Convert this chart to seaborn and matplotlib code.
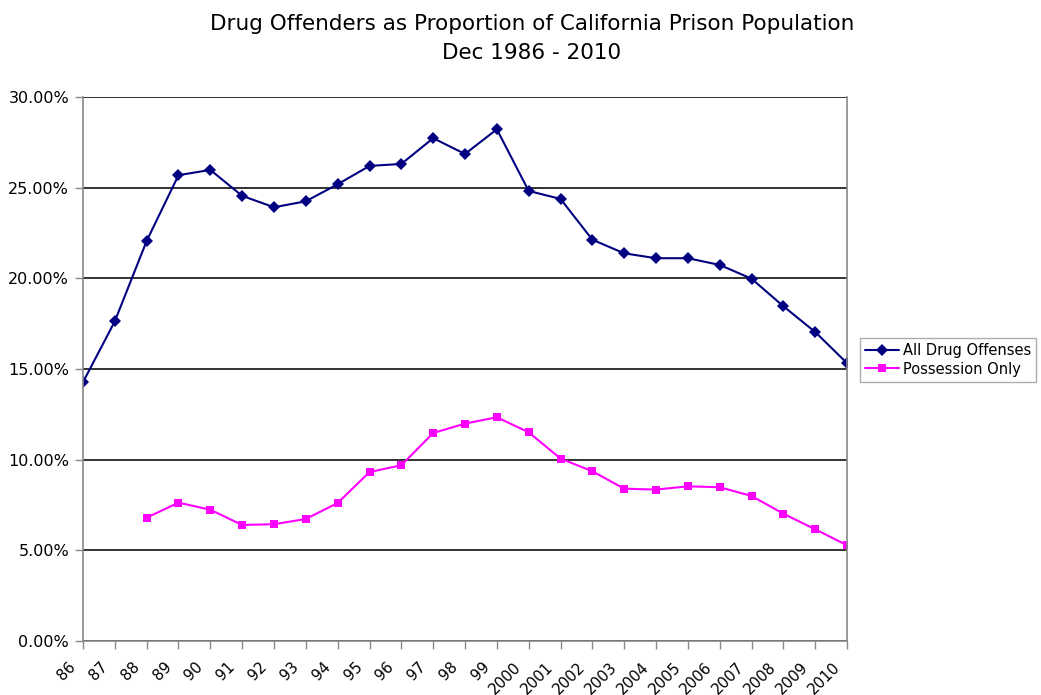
import numpy as np
import pandas as pd
import matplotlib
matplotlib.use("Agg")
import matplotlib.pyplot as plt
import matplotlib.transforms as mtransforms
import seaborn as sns
from matplotlib.ticker import FuncFormatter

# Year labels as shown on the category axis
years = ["86", "87", "88", "89", "90", "91", "92", "93", "94", "95", "96", "97",
         "98", "99", "2000", "2001", "2002", "2003", "2004", "2005", "2006",
         "2007", "2008", "2009", "2010"]

# Share of prison population (percent)
all_drug = [14.27, 17.63, 22.06, 25.69, 25.98, 24.55, 23.92, 24.25, 25.19, 26.20,
            26.31, 27.73, 26.86, 28.22, 24.82, 24.38, 22.13, 21.38, 21.11, 21.11,
            20.74, 19.98, 18.46, 17.04, 15.32]
possession = [np.nan, np.nan, 6.80, 7.63, 7.24, 6.40, 6.44, 6.73, 7.61, 9.32,
              9.69, 11.47, 11.99, 12.34, 11.51, 10.06, 9.36, 8.40, 8.35, 8.53,
              8.48, 8.00, 7.02, 6.16, 5.28]

series_names = ["All Drug Offenses", "Possession Only"]

df = pd.DataFrame({
    "idx": list(range(len(years))) * 2,
    "value": all_drug + possession,
    "series": [series_names[0]] * len(years) + [series_names[1]] * len(years),
})

sns.set_theme(style="white")
plt.rcParams["font.family"] = ["DejaVu Sans"]
plt.rcParams["text.color"] = "black"
plt.rcParams["xtick.labelcolor"] = "black"
plt.rcParams["ytick.labelcolor"] = "black"

fig = plt.figure(figsize=(10.41, 6.95), dpi=100)
ax = fig.add_axes([0.0797, 0.0777, 0.734, 0.7827])

sns.lineplot(
    data=df, x="idx", y="value", hue="series", style="series",
    palette={series_names[0]: "#000080", series_names[1]: "#FF00FF"},
    markers={series_names[0]: "D", series_names[1]: "s"},
    dashes=False, markersize=6, linewidth=1.5, markeredgewidth=0,
    ax=ax,
)

ax.set_xlim(0, len(years) - 1)
ax.set_ylim(0, 30)
ax.set_yticks(np.arange(0, 30.01, 5))
ax.yaxis.set_major_formatter(FuncFormatter(lambda v, p: f"{v:.2f}%"))
ax.set_xticks(range(len(years)))
ax.set_xticklabels(years, rotation=45, ha="right", va="top", rotation_mode="anchor")
ax.set_xlabel("")
ax.set_ylabel("")

ax.yaxis.grid(True, color="#222222", linewidth=1.3)
ax.xaxis.grid(False)
ax.set_axisbelow(True)

for side in ["left", "right", "bottom"]:
    ax.spines[side].set_color("#888888")
    ax.spines[side].set_linewidth(1.2)
ax.spines["top"].set_visible(False)

ax.tick_params(axis="x", direction="out", length=6, width=1, color="#888888",
               labelsize=10.8, pad=2, bottom=True)
ax.tick_params(axis="y", direction="out", length=6, width=1, color="#888888",
               labelsize=11.5, pad=4, left=True)

# Nudge the slanted year labels down-left of their ticks
shift = mtransforms.ScaledTranslation(-15 / 100, -7 / 100, fig.dpi_scale_trans)
for tick in ax.xaxis.get_major_ticks():
    tick.label1.set_transform(tick.label1.get_transform() + shift)

fig.suptitle("Drug Offenders as Proportion of California Prison Population\nDec 1986 - 2010",
             x=0.511, y=0.98, fontsize=15.5, linespacing=1.55, color="black")

leg = ax.legend(loc="center left", bbox_to_anchor=(1.017, 0.517), frameon=True,
                fancybox=False, fontsize=10.5, handlelength=2.3,
                borderpad=0.35, labelspacing=0.25, handletextpad=0.3,
                borderaxespad=0)
leg.get_frame().set_edgecolor("#999999")
leg.get_frame().set_linewidth(1.0)

fig.savefig("out.png", dpi=100)
